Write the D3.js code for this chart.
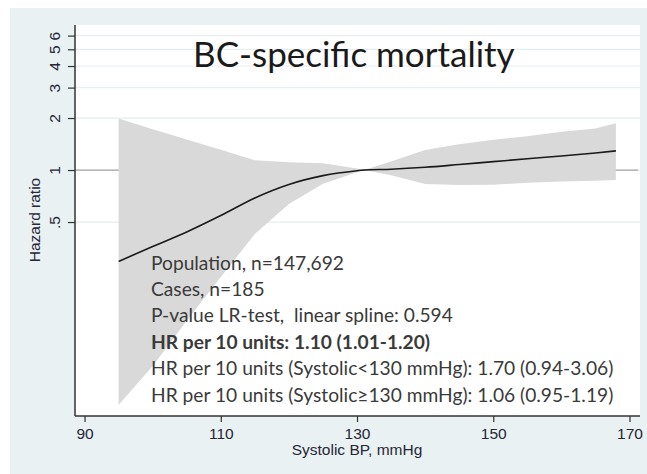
<!DOCTYPE html>
<html>
<head>
<meta charset="utf-8">
<script src="https://cdn.jsdelivr.net/npm/d3@7/dist/d3.min.js"></script>
<style>
  html, body { margin: 0; padding: 0; background: #ffffff; }
  svg { display: block; }
  .note { white-space: pre; }
</style>
</head>
<body>
<svg id="chart" width="647" height="474"></svg>
<script>
// Systolic blood pressure (mmHg) at which the spline estimate is evaluated
const sbp = [95, 100, 105, 110, 115, 120, 125, 130, 131, 135, 140, 145, 150, 155, 160, 165, 168];
// Hazard ratio and 95% confidence limits at each SBP value
const hr      = [0.296, 0.361, 0.438, 0.545, 0.689, 0.825, 0.928, 0.991, 1.000, 1.011, 1.037, 1.076, 1.118, 1.162, 1.206, 1.256, 1.291];
const hrLower = [0.0436, 0.0734, 0.134, 0.240, 0.426, 0.635, 0.833, 0.970, 1.000, 0.932, 0.830, 0.819, 0.821, 0.843, 0.858, 0.867, 0.875];
const hrUpper = [1.99, 1.725, 1.503, 1.309, 1.141, 1.108, 1.095, 1.020, 1.000, 1.120, 1.306, 1.409, 1.498, 1.569, 1.668, 1.739, 1.864];

// Axis ticks
const xTicks = [90, 110, 130, 150, 170];
const yTicks = [0.5, 1, 2, 3, 4, 5, 6];
const yTickLabels = [".5", "1", "2", "3", "4", "5", "6"];

// Annotation text
const title = "BC-specific mortality";
const xTitle = "Systolic BP, mmHg";
const yTitle = "Hazard ratio";
const notes = [
  { text: "Population, n=147,692", bold: false },
  { text: "Cases, n=185", bold: false },
  { text: "P-value LR-test,  linear spline: 0.594", bold: false },
  { text: "HR per 10 units: 1.10 (1.01-1.20)", bold: true },
  { text: "HR per 10 units (Systolic<130 mmHg): 1.70 (0.94-3.06)", bold: false },
  { text: "HR per 10 units (Systolic\u2265130 mmHg): 1.06 (0.95-1.19)", bold: false }
];

const svg = d3.select("#chart");
const W = 647, H = 474;
const plot = { left: 75, right: 640, top: 25, bottom: 416 };

// Outer graph region
svg.append("rect").attr("x", 10).attr("y", 8).attr("width", W - 10).attr("height", H - 8)
  .attr("fill", "#e9f1f3");
// Plot region
svg.append("rect").attr("x", plot.left).attr("y", plot.top)
  .attr("width", plot.right - plot.left).attr("height", plot.bottom - plot.top)
  .attr("fill", "#ffffff");

const x = d3.scaleLinear().domain([88.6, 171.54]).range([plot.left, plot.right]);
const y = d3.scaleLog().domain([0.0377, 6.91]).range([plot.bottom, plot.top]);

// Horizontal grid lines
svg.append("g").selectAll("line").data(yTicks).join("line")
  .attr("x1", plot.left).attr("x2", plot.right)
  .attr("y1", d => y(d)).attr("y2", d => y(d))
  .attr("stroke", "#e6eef1").attr("stroke-width", 1.2);

// Reference line at HR = 1
svg.append("line")
  .attr("x1", plot.left).attr("x2", plot.right - 2)
  .attr("y1", y(1)).attr("y2", y(1))
  .attr("stroke", "#a6a6a6").attr("stroke-width", 1.2);

// Confidence band (drawn over the reference line)
const rows = sbp.map((s, i) => ({ s, hr: hr[i], lo: hrLower[i], hi: hrUpper[i] }));
svg.append("path").datum(rows)
  .attr("d", d3.area().x(d => x(d.s)).y0(d => y(d.lo)).y1(d => y(d.hi)))
  .attr("fill", "#d9d9d9");

// Hazard ratio curve
svg.append("path").datum(rows)
  .attr("d", d3.line().x(d => x(d.s)).y(d => y(d.hr)).curve(d3.curveMonotoneX))
  .attr("fill", "none").attr("stroke", "#1a1a1a").attr("stroke-width", 1.6);

// Axes
const axisFont = "'Liberation Sans', Arial, sans-serif";
const xAxis = svg.append("g").attr("transform", `translate(0,${plot.bottom})`)
  .call(d3.axisBottom(x).tickValues(xTicks).tickSize(6).tickPadding(6).tickFormat(d3.format("d")));
xAxis.select(".domain").attr("d", `M${plot.left},0H${plot.right}`).attr("stroke", "#333").attr("stroke-width", 1.5);
xAxis.selectAll(".tick line").attr("stroke", "#333").attr("stroke-width", 1.2);
xAxis.selectAll(".tick text").attr("font-family", axisFont).attr("font-size", 15.5)
  .attr("fill", "#262636").attr("dy", "0.71em");

const yAxis = svg.append("g").attr("transform", `translate(${plot.left},0)`)
  .call(d3.axisLeft(y).tickValues(yTicks).tickSize(7).tickFormat((d, i) => yTickLabels[i]));
yAxis.select(".domain").attr("d", `M0,${plot.top}V${plot.bottom}`).attr("stroke", "#333").attr("stroke-width", 1.5);
yAxis.selectAll(".tick line").attr("stroke", "#333").attr("stroke-width", 1.2);
yAxis.selectAll(".tick text")
  .attr("font-family", axisFont).attr("font-size", 15.5).attr("fill", "#262636")
  .attr("x", null).attr("dy", null)
  .attr("text-anchor", "middle")
  .attr("transform", "translate(-15,0) rotate(-90)");

// Axis titles
svg.append("text").attr("x", x(130)).attr("y", 455)
  .attr("text-anchor", "middle").attr("font-family", axisFont).attr("font-size", 15.5)
  .attr("fill", "#262636").text(xTitle);
svg.append("text").attr("transform", "translate(40,220) rotate(-90)")
  .attr("text-anchor", "middle").attr("font-family", axisFont).attr("font-size", 15.5)
  .attr("fill", "#262636").text(yTitle);

// Title
svg.append("text").attr("x", 193).attr("y", 67)
  .attr("font-family", "Lato, 'Open Sans', sans-serif").attr("font-size", 35)
  .attr("fill", "#1a1a1a").text(title);

// Model summary
svg.append("g").selectAll("text").data(notes).join("text")
  .attr("class", "note")
  .attr("x", 151).attr("y", (d, i) => 269.5 + i * 26.4)
  .attr("font-family", "Lato, 'Open Sans', sans-serif").attr("font-size", 19.2)
  .attr("font-weight", d => d.bold ? 700 : 400)
  .attr("fill", "#3a3a3a").text(d => d.text);
</script>
</body>
</html>
